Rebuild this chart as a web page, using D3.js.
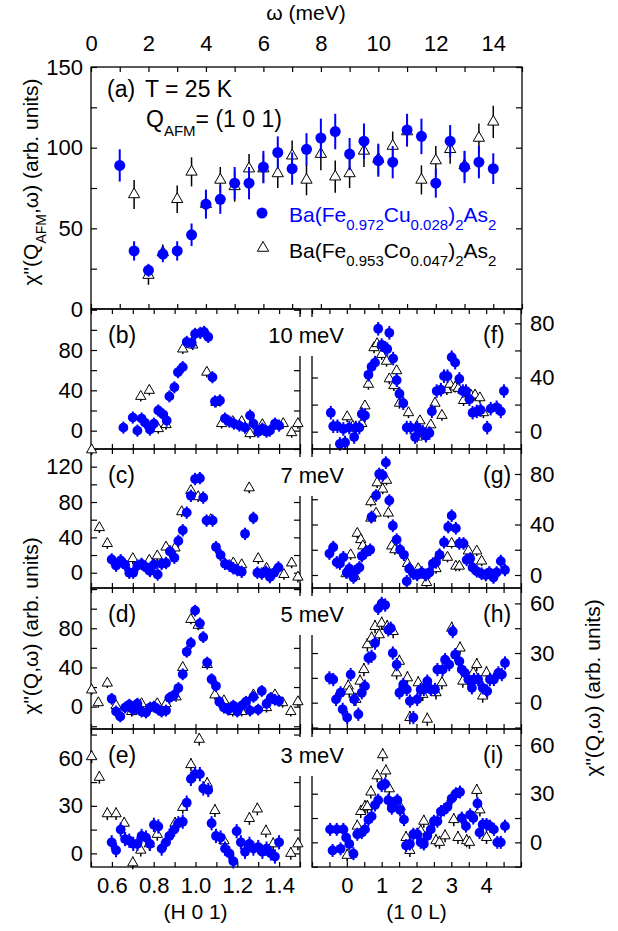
<!DOCTYPE html>
<html>
<head>
<meta charset="utf-8">
<script src="https://cdn.jsdelivr.net/npm/d3@7"></script>
<style>
body { margin: 0; background: #fff; }
</style>
</head>
<body>
<svg id="chart"></svg>
<script>
// ---- panel (a): chi''(Q_AFM, omega) ----
var omegaCu = [1,1.5,2,2.5,3,3.5,4,4.5,5,5.5,6,6.5,7,7.5,8,8.5,9,9.5,10,10.5,11,11.5,12,12.5,13,13.5,14];
var chiCu = [89,36,24,34,36,46,65,68,78,78,88,97,87,99,106,110,96,104,92,91,111,107,78,104,88,91,87];
var chiCuErr = [10,6,4,5,6,7,9,9,10,10,10,10,10,10,12,11,10,11,10,10,10,11,9,10,10,10,9.5];
var omegaCo = [1.5,2,2.5,3,3.5,4,4.5,5,5.5,6,6.5,7,7.5,8,8.5,9,9.5,10,10.5,11,11.5,12,12.5,13,13.5,14];
var chiCo = [71,21,35,68,85,65,80,76,87,87,84,95,80,96,82,84,98,93,101,110,80,92,99,89,106,116];
var chiCoErr = [9,6,5,8.5,9,4,8,9.5,9,9,9,9.5,9.5,10,10,9,10,9.5,9,9.5,9,9,9,9,9,10];

// ---- (H 0 1) scans: [H, chi''] ----
var b_cu = [[0.655,3],[0.70,13],[0.722,0],[0.742,12],[0.758,8],[0.782,1],[0.801,7],[0.822,20],[0.846,16],[0.862,10],[0.875,34],[0.899,43],[0.916,58],[0.939,63],[0.958,88],[0.982,87],[0.998,96],[1.023,97],[1.041,98],[1.061,93],[1.081,53],[1.093,29],[1.117,30],[1.141,12],[1.162,9],[1.184,7],[1.21,5],[1.237,3],[1.261,15],[1.277,7],[1.30,-1],[1.32,2],[1.34,-1],[1.356,0],[1.38,7],[1.40,5]];
var b_co = [[0.738,34],[0.779,40],[0.822,2],[0.859,6],[0.939,81],[0.987,85],[1.054,58],[1.098,28],[1.125,7],[1.178,9],[1.221,9],[1.261,-3],[1.32,6],[1.38,6],[1.42,7],[1.46,-2],[1.49,7]];
var c_cu = [[0.599,15],[0.62,8],[0.642,14],[0.663,9],[0.683,0],[0.702,0],[0.722,8],[0.742,10],[0.763,6],[0.782,2],[0.801,9],[0.819,-2],[0.838,10],[0.859,11],[0.878,24],[0.899,17],[0.918,36],[0.939,48],[0.958,68],[0.978,87],[0.998,106],[1.021,107],[1.037,85],[1.053,59],[1.082,59],[1.098,29],[1.12,20],[1.141,10],[1.162,8],[1.181,5],[1.20,3],[1.221,1],[1.237,44],[1.277,62],[1.296,0],[1.317,-1],[1.337,1],[1.356,-5],[1.376,0],[1.397,6]];
var c_co = [[0.503,139],[0.54,51],[0.578,33],[0.70,16],[0.779,14],[0.817,19],[0.859,29],[0.902,28],[0.934,69],[0.978,93],[1.013,86],[1.073,60],[1.181,11],[1.221,9],[1.257,96],[1.30,16],[1.34,5],[1.423,-2],[1.46,11],[1.49,-5]];
var d_cu = [[0.599,8],[0.62,-5],[0.64,-10],[0.663,-1],[0.683,2],[0.702,-3],[0.722,3],[0.742,-5],[0.763,-6],[0.782,-1],[0.801,0],[0.822,-3],[0.838,-5],[0.859,-4],[0.875,9],[0.898,12],[0.918,19],[0.939,33],[0.958,56],[0.978,65],[0.998,98],[1.021,85],[1.037,71],[1.056,45],[1.077,28],[1.098,21],[1.114,5],[1.136,-1],[1.157,-3],[1.181,1],[1.20,-5],[1.221,1],[1.242,5],[1.261,-4],[1.277,10],[1.30,-3],[1.317,16],[1.34,3],[1.36,9],[1.38,7],[1.40,6]];
var d_co = [[0.503,17],[0.535,4],[0.578,24],[0.62,1],[0.695,-5],[0.742,3],[0.817,3],[0.859,3],[0.907,10],[0.939,40],[0.978,89],[1.013,83],[1.056,43],[1.093,12],[1.136,6],[1.178,-5],[1.221,-5],[1.277,12],[1.34,-1],[1.38,12],[1.417,4],[1.456,-5],[1.49,5]];
var e_cu = [[0.599,7],[0.62,2],[0.642,15],[0.663,9],[0.683,8],[0.702,6],[0.722,6],[0.742,11],[0.763,10],[0.782,6],[0.801,18],[0.822,17],[0.838,3],[0.859,7],[0.875,11],[0.898,15],[0.918,19],[0.939,20],[0.958,32],[0.978,47],[0.998,50],[1.021,50],[1.037,41],[1.061,40],[1.077,19],[1.098,11],[1.12,10],[1.141,3],[1.162,0],[1.181,-5],[1.197,14],[1.217,7],[1.237,1],[1.258,6],[1.277,3],[1.30,4],[1.32,1],[1.34,3],[1.36,0],[1.38,-2],[1.40,7]];
var e_co = [[0.503,61],[0.54,48],[0.578,25],[0.62,25],[0.659,19],[0.70,-6],[0.738,2],[0.779,6],[0.817,12],[0.902,19],[0.939,29],[0.978,56],[1.018,72],[1.056,44],[1.093,27],[1.136,8],[1.258,22],[1.296,28],[1.337,14],[1.372,6],[1.456,0],[1.49,6]];

// ---- (1 0 L) scans: [L, chi''] ----
var f_cu = [[-0.46,14],[-0.39,4],[-0.27,4],[-0.20,-9],[-0.10,2],[-0.05,-8],[0.07,3],[0.21,-4],[0.26,3],[0.36,3],[0.43,13],[0.52,12],[0.62,42],[0.71,48],[0.81,51],[0.90,76],[1.0,64],[1.10,62],[1.16,61],[1.22,73],[1.33,54],[1.43,38],[1.51,28],[1.62,21],[1.72,3],[1.83,3],[1.96,-4],[2.02,3],[2.18,0],[2.27,-3],[2.37,-1],[2.44,15],[2.58,30],[2.70,31],[2.79,41],[2.89,41],[3.01,55],[3.11,51],[3.23,39],[3.33,30],[3.42,30],[3.52,24],[3.61,14],[3.73,15],[3.84,16],[4.03,3],[4.13,17],[4.30,18],[4.42,15],[4.51,30]];
var f_co = [[0.01,11],[0.17,4],[0.43,6],[0.52,19],[0.62,35],[0.78,62],[0.87,65],[1.0,57],[1.14,52],[1.22,39],[1.35,34],[1.43,45],[1.51,21],[1.77,14],[2.02,-4],[2.10,8],[2.41,5],[2.53,21],[2.73,12],[2.87,31],[2.96,35],[3.11,33],[3.20,32],[3.35,23],[3.56,27],[3.68,27],[3.82,25],[3.92,14]];
var g_cu = [[-0.50,17],[-0.39,22],[-0.29,10],[-0.20,9],[-0.10,14],[0.0,2],[0.07,5],[0.19,-2],[0.23,3],[0.36,6],[0.43,15],[0.55,18],[0.67,20],[0.71,46],[0.84,63],[0.93,80],[1.03,79],[1.12,89],[1.22,59],[1.32,39],[1.43,28],[1.53,20],[1.64,16],[1.72,-5],[1.79,5],[1.91,1],[2.02,0],[2.15,2],[2.27,0],[2.37,2],[2.47,9],[2.56,10],[2.66,16],[2.79,26],[2.91,38],[3.01,47],[3.13,37],[3.23,25],[3.35,25],[3.44,12],[3.54,13],[3.61,6],[3.73,3],[3.87,1],[3.99,0],[4.09,2],[4.21,-2],[4.30,2],[4.42,11],[4.54,4]];
var g_co = [[-0.02,1],[0.11,16],[0.23,-1],[0.30,33],[0.40,28],[0.46,23],[0.55,19],[0.69,45],[0.69,58],[0.84,49],[0.87,73],[1.03,68],[1.14,75],[1.19,49],[1.29,23],[1.38,20],[1.74,9],[2.05,5],[2.29,-6],[2.56,5],[2.66,16],[2.89,14],[3.01,25],[3.13,7],[3.23,7],[3.49,19],[3.73,19],[3.87,11]];
var h_cu = [[-0.50,15],[-0.39,14],[-0.31,2],[-0.18,6],[-0.12,-4],[0.01,-9],[0.11,17],[0.21,2],[0.33,-7],[0.43,6],[0.52,10],[0.62,27],[0.71,28],[0.81,36],[0.90,57],[1.0,60],[1.10,59],[1.19,44],[1.26,45],[1.32,30],[1.43,23],[1.51,6],[1.62,11],[1.72,8],[1.81,1],[1.91,-9],[2.02,2],[2.12,8],[2.21,8],[2.31,13],[2.41,8],[2.53,8],[2.60,20],[2.75,20],[2.82,26],[2.94,23],[3.04,43],[3.11,29],[3.23,25],[3.30,20],[3.39,18],[3.49,14],[3.59,9],[3.65,14],[3.77,14],[3.90,9],[4.03,7],[4.11,14],[4.22,14],[4.35,18],[4.45,17],[4.54,24]];
var h_co = [[0.04,10],[0.07,7],[0.26,2],[0.38,13],[0.49,20],[0.59,35],[0.71,39],[0.81,46],[0.93,41],[1.0,48],[1.16,46],[1.33,43],[1.43,18],[1.51,25],[1.74,15],[1.81,-9],[2.05,12],[2.18,5],[2.31,-10],[2.56,6],[2.73,12],[3.01,45],[3.25,33],[3.33,13],[3.63,18],[3.73,23],[3.90,4],[4.01,18]];
var i_cu = [[-0.48,8],[-0.41,-5],[-0.29,8],[-0.18,-4],[-0.10,8],[-0.02,3],[0.07,-1],[0.19,-7],[0.30,5],[0.43,6],[0.52,8],[0.62,14],[0.71,16],[0.81,23],[0.90,26],[1.0,35],[1.10,36],[1.19,26],[1.29,21],[1.33,24],[1.45,26],[1.53,20],[1.64,14],[1.70,-2],[1.81,-1],[1.91,5],[2.02,5],[2.12,0],[2.21,-1],[2.31,4],[2.41,8],[2.50,13],[2.60,13],[2.70,19],[2.79,20],[2.89,22],[3.01,27],[3.13,30],[3.25,31],[3.30,15],[3.42,10],[3.54,17],[3.63,15],[3.75,24],[3.81,6],[3.90,11],[4.01,11],[4.11,10],[4.22,8],[4.32,0],[4.42,0],[4.54,10]];
var i_co = [[0.01,-8],[0.30,10],[0.40,19],[0.52,22],[0.59,22],[0.69,31],[0.87,41],[1.03,54],[1.12,44],[1.22,33],[1.53,22],[1.70,3],[1.81,-5],[2.12,7],[2.21,13],[2.56,1],[2.66,0],[2.82,4],[3.07,14],[3.19,3],[3.44,1],[3.52,0],[3.73,32],[3.82,20],[4.01,3]];

var energies = ['10 meV', '7 meV', '5 meV', '3 meV'];
var hTickLabels = [0.6, 0.8, 1.0, 1.2, 1.4];
var lTickLabels = [0, 1, 2, 3, 4];

var font = 'Arial, "Liberation Sans", Helvetica, sans-serif';
var blue = '#0000ff';

var svg = d3.select('#chart').attr('width', 618).attr('height', 931)
    .style('font-family', font);

function has(list, d) {
    return list.some(v => Math.abs(v - d) < 1e-6);
}

// axes with inward ticks, frame drawn separately
function axes(x, y, ticksX, ticksY, opts) {
    var g = svg.append('g');
    var x0 = x.range()[0], x1 = x.range()[1];
    var top = y.range()[1], bot = y.range()[0];

    var left = d3.axisLeft(y).tickValues(ticksY).tickSize(-6).tickPadding(8)
        .tickFormat(d => (opts.yLabLeft && has(opts.yLabels, d)) ? d : '');
    var right = d3.axisRight(y).tickValues(ticksY).tickSize(-6).tickPadding(9)
        .tickFormat(d => (opts.yLabRight && has(opts.yLabels, d)) ? d : '');
    var topAx = d3.axisTop(x).tickValues(ticksX).tickSize(-5).tickPadding(16)
        .tickFormat(d => (opts.xLabTop && has(opts.xLabels, d)) ? opts.fmt(d) : '');
    var botAx = d3.axisBottom(x).tickValues(ticksX).tickSize(-5).tickPadding(10)
        .tickFormat(d => (opts.xLabBot && has(opts.xLabels, d)) ? opts.fmt(d) : '');

    [[left, 'translate(' + x0 + ',0)'], [right, 'translate(' + x1 + ',0)'],
     [topAx, 'translate(0,' + top + ')'], [botAx, 'translate(0,' + bot + ')']]
        .forEach(a => {
            var ag = g.append('g').attr('transform', a[1]).call(a[0]);
            ag.select('.domain').remove();
            ag.selectAll('line').attr('stroke', '#000').attr('stroke-width', 1.2);
            ag.selectAll('text').attr('font-size', 22).attr('font-family', font).attr('fill', '#000');
        });

    g.append('rect')
        .attr('x', x0).attr('y', top)
        .attr('width', x1 - x0).attr('height', bot - top)
        .attr('fill', 'none').attr('stroke', '#000').attr('stroke-width', 1.3);
}

function points(x, y, cu, co, r, tri) {
    var g = svg.append('g');
    var triPath = d3.symbol().type(d3.symbolTriangle).size(tri);
    g.selectAll('line.co').data(co).join('line')
        .attr('x1', d => x(d[0])).attr('x2', d => x(d[0]))
        .attr('y1', d => y(d[1] + d[2])).attr('y2', d => y(d[1] - d[2]))
        .attr('stroke', '#000').attr('stroke-width', 1.5);
    g.selectAll('path.co').data(co).join('path')
        .attr('d', triPath)
        .attr('transform', d => 'translate(' + x(d[0]) + ',' + y(d[1]) + ')')
        .attr('fill', '#fff').attr('stroke', '#000').attr('stroke-width', 1);
    g.selectAll('line.cu').data(cu).join('line')
        .attr('x1', d => x(d[0])).attr('x2', d => x(d[0]))
        .attr('y1', d => y(d[1] + d[2])).attr('y2', d => y(d[1] - d[2]))
        .attr('stroke', blue).attr('stroke-width', 2);
    g.selectAll('circle').data(cu).join('circle')
        .attr('cx', d => x(d[0])).attr('cy', d => y(d[1])).attr('r', r)
        .attr('fill', blue);
}

function withErr(list, e) {
    return list.map(d => [d[0], d[1], e]);
}

// rich text with subscripts: parts = [[text, isSub], ...]
function rich(g, x, y, parts, size, subSize, color) {
    var t = g.append('text').attr('x', x).attr('y', y)
        .attr('font-size', size).attr('fill', color);
    var low = false;
    parts.forEach(p => {
        var dy = 0;
        if (p[1] && !low) { dy = size * 0.38; low = true; }
        else if (!p[1] && low) { dy = -size * 0.38; low = false; }
        t.append('tspan').attr('dy', dy).attr('font-size', p[1] ? subSize : size).text(p[0]);
    });
    return t;
}

// ---- panel (a) ----
var xA = d3.scaleLinear().domain([0, 15]).range([91, 522]);
var yA = d3.scaleLinear().domain([0, 150]).range([309, 67]);
axes(xA, yA, d3.range(0, 16), d3.range(0, 151, 25), {
    yLabels: [0, 50, 100, 150], yLabLeft: true,
    xLabels: [0, 2, 4, 6, 8, 10, 12, 14], xLabTop: true, fmt: d => d
});
points(xA, yA,
    omegaCu.map((w, i) => [w, chiCu[i], chiCuErr[i]]),
    omegaCo.map((w, i) => [w, chiCo[i], chiCoErr[i]]), 5.5, 55);

svg.append('text').attr('x', 306).attr('y', 20).attr('text-anchor', 'middle')
    .attr('font-size', 21).text('ω (meV)');

var ta = svg.append('g');
ta.append('text').attr('x', 107).attr('y', 97).attr('font-size', 23).text('(a)');
ta.append('text').attr('x', 145).attr('y', 97).attr('font-size', 23).text('T = 25 K');
rich(ta, 146, 127, [['Q', false], ['AFM', true], ['= (1 0 1)', false]], 23, 15, '#000');

// legend
var lg = svg.append('g');
lg.append('circle').attr('cx', 262).attr('cy', 213).attr('r', 5.5).attr('fill', blue);
rich(lg, 289, 222, [['Ba(Fe', false], ['0.972', true], ['Cu', false], ['0.028', true],
    [')', false], ['2', true], ['As', false], ['2', true]], 21, 15, blue);
lg.append('path').attr('d', d3.symbol().type(d3.symbolTriangle).size(55))
    .attr('transform', 'translate(263,248)')
    .attr('fill', '#fff').attr('stroke', '#000');
rich(lg, 289, 258, [['Ba(Fe', false], ['0.953', true], ['Co', false], ['0.047', true],
    [')', false], ['2', true], ['As', false], ['2', true]], 21, 15, '#000');

// ---- panels (b)-(i) ----
var xH = d3.scaleLinear().domain([0.5, 1.5]).range([91, 300]);
var xL = d3.scaleLinear().domain([-1, 5]).range([312, 521]);
var rowTop = [309, 449, 588, 729];
var rowBot = [449, 588, 729, 867];

var leftPanels = [
    {name: '(b)', cu: b_cu, co: b_co, dom: [-18.2, 120.7], step: 20, labs: [0, 40, 80], err: [6, 5]},
    {name: '(c)', cu: c_cu, co: c_co, dom: [-17.3, 140], step: 20, labs: [0, 40, 80, 120], err: [7, 6]},
    {name: '(d)', cu: d_cu, co: d_co, dom: [-22.8, 121.1], step: 20, labs: [0, 40, 80], err: [6, 5]},
    {name: '(e)', cu: e_cu, co: e_co, dom: [-8.6, 78.5], step: 15, labs: [0, 30, 60], err: [4.5, 4]}
];
var rightPanels = [
    {name: '(f)', cu: f_cu, co: f_co, dom: [-12.8, 90.6], step: 20, labs: [0, 40, 80], err: [5, 4]},
    {name: '(g)', cu: g_cu, co: g_co, dom: [-10.3, 99.8], step: 20, labs: [0, 40, 80], err: [5, 4]},
    {name: '(h)', cu: h_cu, co: h_co, dom: [-15.9, 69.3], step: 15, labs: [0, 30, 60], err: [4, 4]},
    {name: '(i)', cu: i_cu, co: i_co, dom: [-15.2, 69.9], step: 15, labs: [0, 30, 60], err: [4, 4]}
];

function yTicks(p) {
    return d3.range(Math.ceil(p.dom[0] / p.step) * p.step, p.dom[1] + 0.01, p.step);
}

leftPanels.forEach((p, i) => {
    var y = d3.scaleLinear().domain(p.dom).range([rowBot[i], rowTop[i]]);
    axes(xH, y, d3.range(5, 16).map(d => d / 10), yTicks(p), {
        yLabels: p.labs, yLabLeft: true,
        xLabels: hTickLabels, xLabBot: i === 3, fmt: d3.format('.1f')
    });
    points(xH, y, withErr(p.cu, p.err[0]), withErr(p.co, p.err[1]), 4.9, 46);
});

rightPanels.forEach((p, i) => {
    var y = d3.scaleLinear().domain(p.dom).range([rowBot[i], rowTop[i]]);
    axes(xL, y, d3.range(-1, 5.01, 0.5), yTicks(p), {
        yLabels: p.labs, yLabRight: true,
        xLabels: lTickLabels, xLabBot: i === 3, fmt: d => d
    });
    points(xL, y, withErr(p.cu, p.err[0]), withErr(p.co, p.err[1]), 4.9, 46);
});

// energy labels with white boxes over the panel gap, panel letters
energies.forEach((e, i) => {
    var t = rowTop[i];
    svg.append('rect').attr('x', 262).attr('y', t + 8).attr('width', 86).attr('height', 39).attr('fill', '#fff');
    svg.append('text').attr('x', 344).attr('y', t + 34).attr('text-anchor', 'end')
        .attr('font-size', 22).text(e);
    svg.append('text').attr('x', 108).attr('y', t + 34).attr('font-size', 23).text(leftPanels[i].name);
    svg.append('text').attr('x', 483).attr('y', t + 34).attr('font-size', 23).text(rightPanels[i].name);
});

// axis titles
svg.append('text').attr('x', 195.5).attr('y', 919).attr('text-anchor', 'middle')
    .attr('font-size', 21).text('(H 0 1)');
svg.append('text').attr('x', 416.5).attr('y', 919).attr('text-anchor', 'middle')
    .attr('font-size', 21).text('(1 0 L)');

var t1 = svg.append('g').attr('transform', 'translate(38,182) rotate(-90)');
rich(t1, 0, 0, [['χ"(Q', false], ['AFM', true], [',ω) (arb. units)', false]], 21, 14, '#000')
    .attr('text-anchor', 'middle');
var t2 = svg.append('g').attr('transform', 'translate(38,626) rotate(-90)');
t2.append('text').attr('text-anchor', 'middle').attr('font-size', 21).text('χ"(Q,ω) (arb. units)');
var t3 = svg.append('g').attr('transform', 'translate(600,688) rotate(-90)');
t3.append('text').attr('text-anchor', 'middle').attr('font-size', 21).text('χ"(Q,ω) (arb. units)');
</script>
</body>
</html>
